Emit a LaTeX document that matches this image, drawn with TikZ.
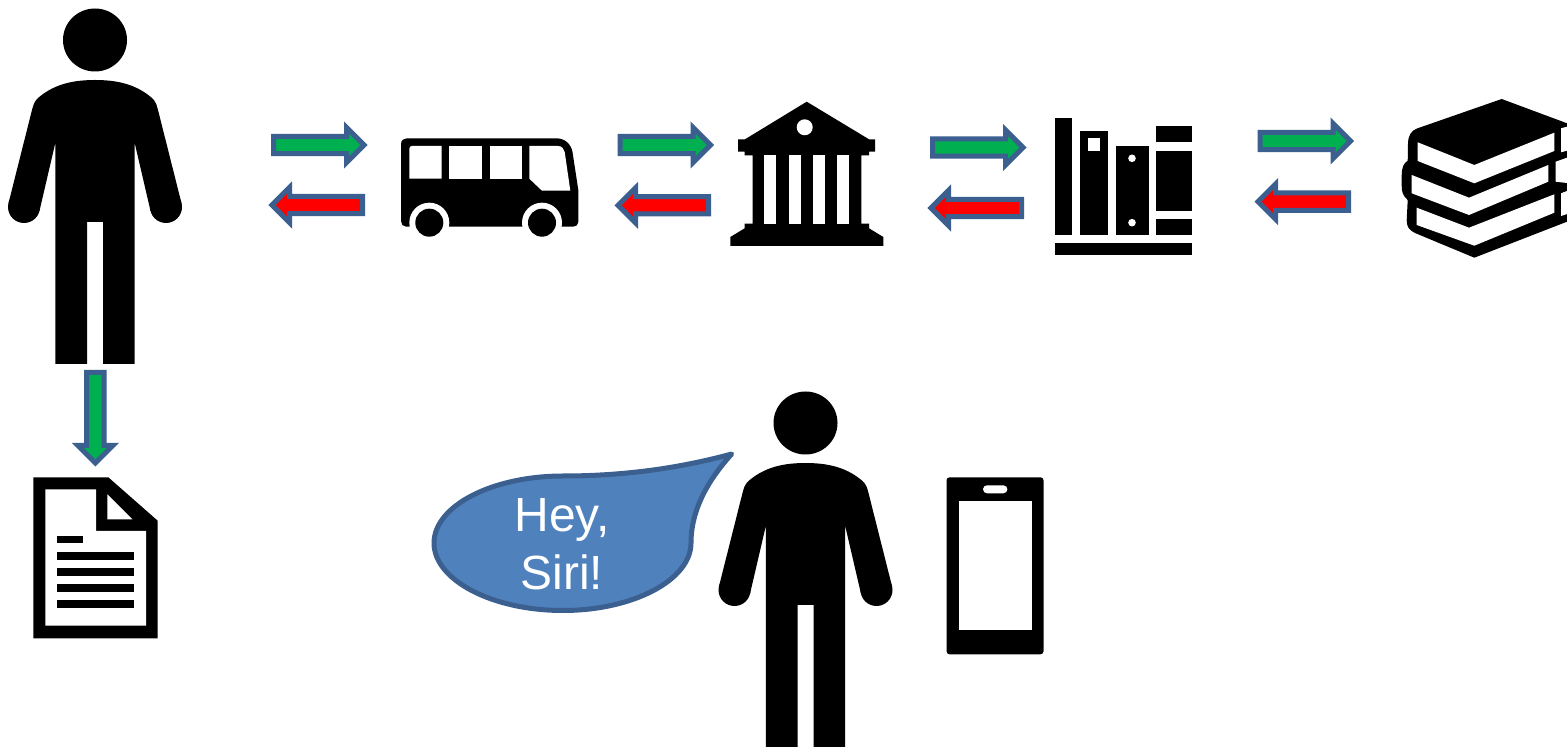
\documentclass[tikz,border=0pt]{standalone}
\usepackage{fontspec}
\setmainfont{Liberation Sans}
\usetikzlibrary{positioning}
\definecolor{arrowblue}{HTML}{3B6090}
\definecolor{arrowgreen}{HTML}{00B050}
\definecolor{arrowred}{HTML}{FF0000}
\definecolor{bubbleblue}{HTML}{4F81BD}
\tikzset{
  icon/.style={fill=black, draw=none},
  cutout/.style={fill=white, draw=none},
  flow arrow/.pic={
    \path [pic actions, line width=2.5pt, miter limit=10]
      (0,-8.7) -- (73,-8.7) -- (73,-17.5) -- (90.5,0) -- (73,17.5) -- (73,8.7) -- (0,8.7) -- cycle;
  },
  go arrow/.style={draw=arrowblue, fill=arrowgreen},
  back arrow/.style={draw=arrowblue, fill=arrowred},
  person/.pic={
    \fill [icon] (0,0) ellipse [x radius=32, y radius=31.5];
    \fill [icon] (0,40) .. controls (-28,40) and (-44,47) .. (-57,58)
      .. controls (-61,61.5) and (-62,66) .. (-63.5,72) -- (-86.5,163.2) -- (-55.5,170.8)
      -- (-39.7,103) -- (-39.7,324) -- (-8,324) -- (-8,182) -- (8,182) -- (8,324)
      -- (39.7,324) -- (39.7,103) -- (55.5,170.8) -- (86.5,163.2) -- (63.5,72)
      .. controls (62,66) and (61,61.5) .. (57,58) .. controls (44,47) and (28,40) .. (0,40) -- cycle;
    \fill [icon] (-71,167) circle [radius=16];
    \fill [icon] (71,167) circle [radius=16];
  },
  bubble/.style={fill=bubbleblue, draw=arrowblue, line width=2.5pt, line join=round},
  bubble text/.style={text=white, align=center, inner sep=0pt, font=\fontsize{24}{29}\selectfont}
}
\begin{document}
\begin{tikzpicture}[x=0.5pt, y=-0.5pt]
  \useasboundingbox (0,0) rectangle (1567,747);
  % People
  \pic at (95,40) {person};
  \pic at (805.5,423) {person};

  % Arrows: there and back
  \foreach \gx/\gy/\rx/\ry in {273.5/145/362.5/205, 620/145/708.5/205.3, 932.5/147.5/1021.5/208, 1260/141/1348.5/201.7} {
    \pic [go arrow] at (\gx,\gy) {flow arrow};
    \pic [back arrow, rotate=180] at (\rx,\ry) {flow arrow};
  }
  \pic [go arrow, rotate=-90] at (95.3,372.5) {flow arrow};

  % Bus
  \fill [icon] (401,144) .. controls (401,140) and (404,138.3) .. (407,138.3) -- (556,138.3)
    .. controls (565,138.3) and (571,144) .. (572.5,152) -- (578.3,190) -- (578.3,222)
    .. controls (578.3,225) and (576,226.7) .. (573,226.7) -- (406,226.7)
    .. controls (403,226.7) and (401,224) .. (401,221) -- cycle;
  \fill [cutout] (409.3,149) .. controls (409.3,147) and (410.5,146) .. (412,146) -- (441.7,146) -- (441.7,178.7) -- (409.3,178.7) -- cycle;
  \fill [cutout] (449.3,146) rectangle (481.7,178.7);
  \fill [cutout] (490,146) rectangle (522,178.7);
  \fill [cutout] (529.3,146) -- (558,146) .. controls (562,146) and (564,149) .. (564.7,152)
    -- (570.3,190.7) -- (542,190.7) -- (529.3,178.7) -- cycle;
  \foreach \wx in {429.3,542} {
    \fill [cutout] (\wx,222.7) circle [radius=20];
    \fill [icon] (\wx,222.7) circle [radius=14];
  }

  % Bank
  \fill [icon] (806.7,101.7) -- (869,139.3) -- (875,139.3) -- (875,151.7) -- (869,151.7) -- (869,155.3)
    -- (861.3,155.3) -- (861.3,223.7) -- (869,223.7) -- (869,228.3) -- (883.3,237) -- (883.3,246) -- (730.3,246) -- (730.3,237)
    -- (744.7,228.3) -- (744.7,223.7) -- (752.7,223.7) -- (752.7,155.3) -- (744.7,155.3) -- (744.7,151.7) -- (738,151.7)
    -- (738,139.3) -- (745,139.3) -- cycle;
  \foreach \cx in {764,788.7,812.7,837} {
    \fill [cutout] (\cx,155.3) rectangle +(12.4,68.4);
  }
  \fill [cutout] (804.7,127.3) circle [radius=8];

  % Bookshelf
  \fill [icon] (1055,118.3) rectangle (1071.7,235);
  \fill [icon] (1079.5,130.7) rectangle (1108,235);
  \fill [cutout] (1087.8,138.3) rectangle (1100,150.7);
  \fill [icon] (1115.9,146.3) rectangle (1148.5,235);
  \fill [cutout] (1132,158.3) circle [radius=3.8];
  \fill [cutout] (1132,222.7) circle [radius=3.8];
  \fill [icon] (1156.4,126) rectangle (1192.3,142.3);
  \fill [icon] (1156.4,150.7) rectangle (1192.3,210.7);
  \fill [icon] (1156.4,219) rectangle (1192.3,235);
  \fill [icon] (1055,243.3) rectangle (1192.3,254.7);

  % Stack of books
  \fill [icon] (1501.7,99) -- (1567,123.3) -- (1567,221.7) -- (1474.3,257.7) -- (1415,233)
    .. controls (1409,230) and (1406.7,227) .. (1406.7,220) -- (1407.7,200)
    .. controls (1403,196) and (1401.7,192) .. (1401.7,186) -- (1401.7,175)
    .. controls (1401.7,167) and (1404,163) .. (1407.7,160.7) -- (1408,143)
    .. controls (1408.5,135) and (1411,131) .. (1417,128.5) -- cycle;
  \fill [cutout] (1417.7,142.3) -- (1474.3,165) -- (1554.3,132.7) -- (1554.3,151) -- (1474.3,183.3) -- (1417.7,161) -- cycle;
  \fill [cutout] (1411.7,175) -- (1469,197.7) -- (1548.3,165) -- (1548.3,181.7) -- (1469,215) -- (1411.7,193.3) -- cycle;
  \fill [cutout] (1416.7,207.7) -- (1469,227.7) -- (1554.3,194.3) -- (1554.3,212.7) -- (1474.3,245.7) -- (1416.7,225) -- cycle;
  \fill [cutout] (1561,128.3) -- (1567,126.7) -- (1567,150.7) -- (1561,152.3) -- cycle;
  \fill [cutout] (1555.7,161.7) -- (1567,157.7) -- (1567,183) -- (1555.7,181.7) -- cycle;
  \fill [cutout] (1561,193.3) -- (1567,191) -- (1567,214) -- (1561,216) -- cycle;

  % Document
  \fill [icon] (33.3,477.3) -- (108.3,477.3) -- (157.7,520.7) -- (157.7,638.3) -- (33.3,638.3) -- cycle;
  \fill [cutout] (45.3,489.3) -- (96,489.3) -- (96,531) -- (146,531) -- (146,625.7) -- (45.3,625.7) -- cycle;
  \fill [cutout] (107.3,494.3) -- (107.3,519.3) -- (132.3,519.3) -- cycle;
  \fill [icon] (57.3,535.7) rectangle (83.3,543.3);
  \foreach \ly in {552,568,584,600} {
    \fill [icon] (57.3,\ly) rectangle (133.7,\ly+7.7);
  }

  % Speech bubble
  \path [bubble] (731.7,454) .. controls (680,468) and (625,476) .. (563,476)
    .. controls (492,476) and (434,506) .. (434,543) .. controls (434,580) and (492,610.5) .. (563,610.5)
    .. controls (633,610.5) and (691,580) .. (691,543) .. controls (691,510) and (708,480) .. (731.7,454) -- cycle;
  \node (siri) [bubble text] at (562,544.5) {Hey,\\Siri!};

  % Phone
  \fill [icon, rounded corners=1.5pt] (946.5,477.3) rectangle (1043.5,654.3);
  \fill [cutout] (958.8,501.3) rectangle (1031.5,630);
  \fill [cutout, rounded corners=2pt] (983,485.3) rectangle (1007.4,493.3);
\end{tikzpicture}
\end{document}
